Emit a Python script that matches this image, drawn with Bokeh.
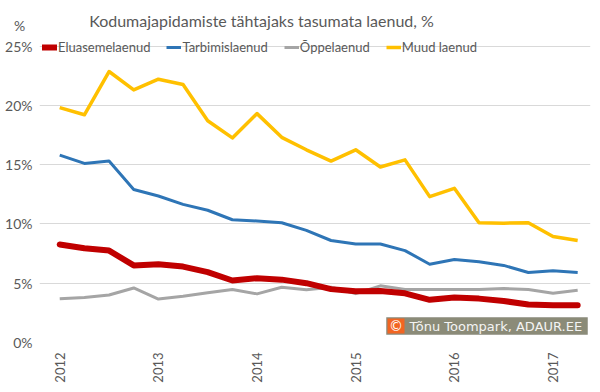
import math
from bokeh.plotting import figure
from bokeh.models import (Range1d, FixedTicker, PrintfTickFormatter, Legend, LegendItem,
                          Label, BoxAnnotation, ColumnDataSource)
from bokeh.embed import file_html
from bokeh.resources import INLINE

# Quarterly data 2012Q1 .. 2017Q2 (%)
quarters = [f"{y}Q{q}" for y in range(2012, 2018) for q in range(1, 5)][:22]
eluasemelaenud = [8.26, 7.95, 7.75, 6.5, 6.6, 6.4, 5.93, 5.23, 5.42, 5.3, 5.0,
                  4.5, 4.33, 4.35, 4.15, 3.6, 3.8, 3.7, 3.5, 3.2, 3.15, 3.15]
tarbimislaenud = [15.8, 15.1, 15.3, 12.9, 12.35, 11.65, 11.15, 10.35, 10.25, 10.1, 9.45,
                  8.6, 8.3, 8.3, 7.75, 6.6, 7.0, 6.8, 6.5, 5.9, 6.05, 5.9]
oppelaenud = [3.68, 3.8, 4.0, 4.6, 3.66, 3.9, 4.2, 4.47, 4.1, 4.66, 4.44,
              4.66, 4.12, 4.78, 4.47, 4.47, 4.47, 4.47, 4.55, 4.47, 4.15, 4.4]
muud_laenud = [19.8, 19.2, 22.85, 21.3, 22.2, 21.75, 18.7, 17.25, 19.3, 17.3, 16.25,
               15.3, 16.25, 14.8, 15.4, 12.3, 13.0, 10.1, 10.06, 10.1, 8.94, 8.6]
year_labels = ["2012", "2013", "2014", "2015", "2016", "2017"]
y_ticks = [0, 5, 10, 15, 20, 25]
y_unit_tick = 26.7  # where the "%" unit caption sits

TEXT = "#595959"
FONT = "Lato"

x = list(range(len(quarters)))
src = ColumnDataSource(dict(x=x, q=quarters, e=eluasemelaenud, t=tarbimislaenud,
                            o=oppelaenud, m=muud_laenud))

p = figure(width=600, height=392, output_backend="svg", toolbar_location=None,
           x_range=Range1d(-0.82, 21.52), y_range=Range1d(0, 28.67),
           min_border_left=39, min_border_right=10, min_border_top=2, min_border_bottom=50)
p.outline_line_color = None
p.background_fill_color = "white"
p.border_fill_color = "white"
p.styles = {"outline": "1px solid #dcdcdc", "outline-offset": "-2px"}

# axes
p.yaxis.ticker = FixedTicker(ticks=y_ticks + [y_unit_tick])
p.yaxis.formatter = PrintfTickFormatter(format="%d%%")
p.yaxis.major_label_overrides = {y_unit_tick: "%\u00a0\u00a0"}
p.xaxis.ticker = FixedTicker(ticks=[i * 4 for i in range(len(year_labels))])
p.xaxis.major_label_overrides = {i * 4: lab for i, lab in enumerate(year_labels)}
p.xaxis.major_label_orientation = math.pi / 2
for ax in (p.xaxis, p.yaxis):
    ax.axis_line_color = None
    ax.major_tick_line_color = None
    ax.minor_tick_line_color = None
    ax.major_tick_out = 0
    ax.major_tick_in = 0
    ax.major_label_text_color = TEXT
    ax.major_label_text_font = FONT
p.yaxis.major_label_text_font_size = "14px"
p.yaxis.major_label_standoff = 7
p.xaxis.major_label_text_font_size = "13px"
p.xaxis.major_label_standoff = 10

p.xgrid.grid_line_color = None
p.ygrid.ticker = FixedTicker(ticks=y_ticks)
p.ygrid.grid_line_color = "#d9d9d9"
p.ygrid.grid_line_width = 1

r_m = p.line("x", "m", source=src, line_color="#ffc000", line_width=3.5, line_join="round")
r_o = p.line("x", "o", source=src, line_color="#a5a5a5", line_width=3, line_join="round")
r_t = p.line("x", "t", source=src, line_color="#2e75b6", line_width=3, line_join="round")
r_e = p.line("x", "e", source=src, line_color="#c00000", line_width=6,
             line_join="round", line_cap="round")

legend = Legend(items=[LegendItem(label="Eluasemelaenud", renderers=[r_e]),
                       LegendItem(label="Tarbimislaenud", renderers=[r_t]),
                       LegendItem(label="Õppelaenud", renderers=[r_o]),
                       LegendItem(label="Muud laenud", renderers=[r_m])],
                orientation="horizontal", location=(3, 287),
                background_fill_alpha=0, border_line_color=None,
                padding=0, margin=0, spacing=16, label_standoff=1,
                glyph_width=15, glyph_height=16, label_height=16,
                label_text_font=FONT, label_text_font_size="13px",
                label_text_color=TEXT)
p.add_layout(legend, "center")

p.add_layout(Label(x=222, y=322, x_units="screen", y_units="screen",
                   text="Kodumajapidamiste tähtajaks tasumata laenud, %",
                   text_align="center", text_baseline="middle",
                   text_font=FONT, text_font_size="16px", text_color=TEXT))

# watermark
p.add_layout(BoxAnnotation(left=347, right=548, bottom=8, top=25,
                           left_units="screen", right_units="screen",
                           top_units="screen", bottom_units="screen",
                           fill_color="#8b8b78", fill_alpha=1,
                           line_color="#5f5f52", line_width=1, level="annotation"))
p.add_layout(BoxAnnotation(left=348, right=365, bottom=9, top=24,
                           left_units="screen", right_units="screen",
                           top_units="screen", bottom_units="screen",
                           fill_color="#f26522", fill_alpha=1,
                           line_color=None, level="annotation"))
p.add_layout(Label(x=356.5, y=16.5, x_units="screen", y_units="screen", text="©",
                   text_align="center", text_baseline="middle", level="overlay",
                   text_font="DejaVu Sans", text_font_size="14px", text_color="white"))
p.add_layout(Label(x=370, y=16.5, x_units="screen", y_units="screen",
                   text="Tõnu Toompark, ADAUR.EE", level="overlay",
                   text_align="left", text_baseline="middle",
                   text_font="DejaVu Sans", text_font_size="13px", text_color="#f4f4f4"))

open("out.html", "w").write(file_html(p, INLINE))
